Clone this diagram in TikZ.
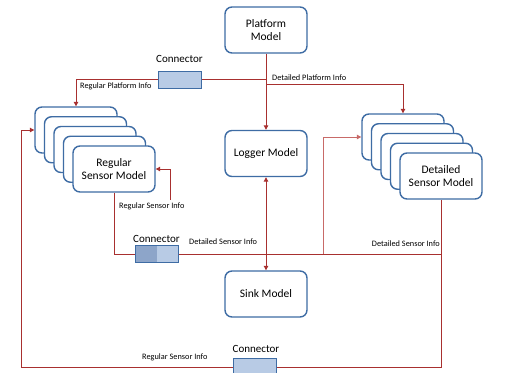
\documentclass[tikz,border=0pt]{standalone}
\usepackage{fontspec}
\setmainfont{Carlito}
\usetikzlibrary{arrows.meta,calc}
\definecolor{boxblue}{HTML}{3E6CA4}
\definecolor{connfill}{HTML}{B8CBE5}
\definecolor{conndark}{HTML}{8DA5C9}
\definecolor{lred}{HTML}{A8302F}
\definecolor{lpink}{HTML}{C86A68}
\tikzset{
  model/.style={draw=boxblue, line width=1.4pt, rounded corners=7pt, fill=white,
    minimum width=82pt, minimum height=46pt, inner sep=1pt, align=center,
    font=\fontsize{11.5}{13.5}\selectfont},
  conn/.style={draw=boxblue, line width=1pt, fill=connfill, minimum width=43pt,
    minimum height=17pt, inner sep=0pt},
  ctext/.style={font=\fontsize{11}{12}\selectfont, inner sep=0pt},
  lab/.style={font=\fontsize{8.3}{9}\selectfont, inner sep=0pt},
  wire/.style={draw=lred, line width=1pt},
  arr/.style={wire, -{Triangle[length=4.5pt,width=4.5pt]}},
  darr/.style={wire, {Triangle[length=4.5pt,width=4.5pt]}-{Triangle[length=4.5pt,width=4.5pt]}}
}
\begin{document}
\begin{tikzpicture}[x=1pt,y=-1pt]
\useasboundingbox (0,0) rectangle (521,372);

% central models
\node[model] (plat) at (266,30) {Platform\\Model};
\node[model] (log) at (266,153.5) {Logger Model};
\node[model] (sink) at (266,294) {Sink Model};

% regular sensor stack
\node[model] (rs0) at (76,130) {};
\node[model] (rs1) at (85.5,139.75) {};
\node[model] (rs2) at (95,149.5) {};
\node[model] (rs3) at (104.5,159.25) {};
\node[model] (rs4) at (114,169) {Regular\\Sensor Model};

% detailed sensor stack
\node[model] (ds0) at (403,137) {};
\node[model] (ds1) at (412.5,146.75) {};
\node[model] (ds2) at (422,156.5) {};
\node[model] (ds3) at (431.5,166.25) {};
\node[model] (ds4) at (441,176) {Detailed\\Sensor Model};

% connectors
\node[conn] (c1) at (179.5,79.5) {};
\node[ctext] (c1l) at (179.5,59) {Connector};
\node[conn, path picture={\fill[conndark] (path picture bounding box.south west) rectangle (path picture bounding box.north);}] (c2) at (156.5,254) {};
\node[ctext] (c2l) at (156.5,238.5) {Connector};
\node[conn] (c3) at (255,367) {};
\node[ctext] (c3l) at (256,349) {Connector};

% coordinates
\coordinate (pj) at (266,84);
\coordinate (dang) at (170,200);
\coordinate (j1) at (323,254);
\coordinate (lx) at (21,130);
\coordinate (j2) at (441,254);

% wires
\draw[arr] (plat.south) -- (log.north);
\draw[wire] (c1.east) -- (c1.east -| plat.south);
\draw[arr] (c1.west) -| (rs0.north);
\draw[arr] (pj) -| (ds0.north);
\draw[darr] (log.south) -- (sink.north);
\draw[wire] (rs4.south) |- (c2.west);
\draw[arr] (dang) |- (rs4.east);
\draw[wire] (c2.east) -| (ds4.south);
\draw[arr, draw=lpink] (j1) |- (ds0.west);
\draw[arr] (c3.west) -| (lx) -- (rs0.west);
\draw[wire] (c3.east) -| (j2);

% redraw connectors on top
\node[conn] at (c1) {};
\node[conn, path picture={\fill[conndark] (path picture bounding box.south west) rectangle (path picture bounding box.north);}] at (c2) {};
\node[conn] at (c3) {};

% labels
\node[lab, anchor=west] (l1) at (80,86.5) {Regular Platform Info};
\node[lab, anchor=west] (l2) at (272,77.5) {Detailed Platform Info};
\node[lab, anchor=west] (l3) at (119,206) {Regular Sensor Info};
\node[lab, anchor=west] (l4) at (189,241.5) {Detailed Sensor Info};
\node[lab, anchor=east] (l5) at (440,244) {Detailed Sensor Info};
\node[lab, anchor=west] (l6) at (142,357.5) {Regular Sensor Info};
\end{tikzpicture}
\end{document}
